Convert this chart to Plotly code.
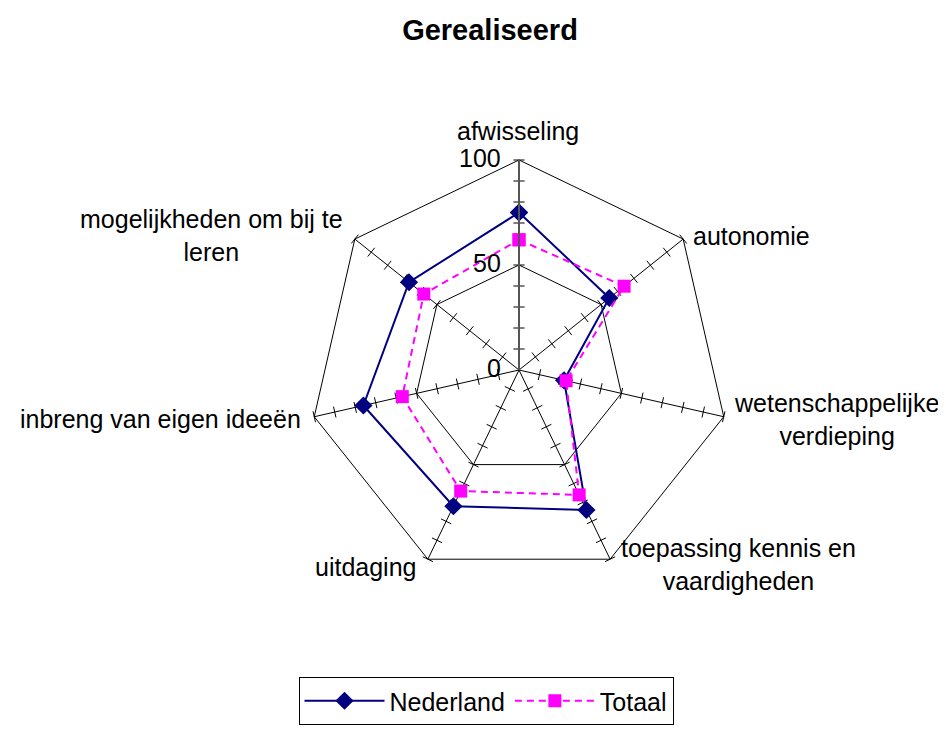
import plotly.graph_objects as go

categories = ["afwisseling", "autonomie", "wetenschappelijke verdieping",
              "toepassing kennis en vaardigheden", "uitdaging",
              "inbreng van eigen ideeën", "mogelijkheden om bij te leren"]
label_text = ["afwisseling", "autonomie", "wetenschappelijke<br>verdieping",
              "toepassing kennis en<br>vaardigheden", "uitdaging",
              "inbreng van eigen ideeën", "mogelijkheden om bij te<br>leren"]
nederland = [75, 55, 22, 74, 72, 76, 67]
totaal = [62, 64, 23, 66, 64, 57, 58]
radial_ticks = [0, 50, 100]
minor_ticks = [10, 20, 30, 40, 50, 60, 70, 80, 90, 100]

W, H = 946, 730
OFF = 8          # page body margin around the plot div
cx, cy, R = 519, 370, 210   # target centre / radius in screen pixels
FONT = "Liberation Sans, Arial, sans-serif"
FS = 25


def px(x):
    return (x - OFF) / W


def py(y):
    return 1 - (y - OFF) / H


fig = go.Figure()

# minor tick marks along every axis
n = len(categories)
tick_r, tick_t, tick_a = [], [], []
for i, c in enumerate(categories):
    for r in minor_ticks:
        tick_r.append(r)
        tick_t.append(c)
        tick_a.append(i * 360.0 / n)
fig.add_trace(go.Scatterpolar(
    r=tick_r, theta=tick_t, mode="markers",
    marker=dict(symbol="line-ew", size=8, angle=tick_a,
                line=dict(color="black", width=1)),
    showlegend=False, hoverinfo="skip"))

fig.add_trace(go.Scatterpolar(
    r=nederland + nederland[:1], theta=categories + categories[:1],
    mode="lines+markers", name="Nederland",
    line=dict(color="#000080", width=2),
    marker=dict(symbol="diamond", size=14, color="#000080")))
fig.add_trace(go.Scatterpolar(
    r=totaal + totaal[:1], theta=categories + categories[:1],
    mode="lines+markers", name="Totaal",
    line=dict(color="#FF00FF", width=2, dash="7px,5px"),
    marker=dict(symbol="square", size=13, color="#FF00FF")))

label_pos = [
    (518, 131, "center"),
    (691, 236, "left"),
    (836, 419, "center"),
    (738, 564, "center"),
    (418, 567, "right"),
    (303, 419, "right"),
    (211, 235, "center"),
]
annotations = []
for txt, (x, y, xa) in zip(label_text, label_pos):
    annotations.append(dict(text=txt, x=px(x), y=py(y), xref="paper", yref="paper",
                            xanchor=xa, yanchor="middle", align="center", showarrow=False,
                            font=dict(family=FONT, size=FS, color="black")))
# radial value labels, placed along the vertical axis from their values
for v in radial_ticks:
    annotations.append(dict(text=str(v), x=px(cx - 16), y=py(cy - v / 100 * R - 2),
                            xref="paper", yref="paper", xanchor="right", yanchor="middle",
                            showarrow=False, font=dict(family=FONT, size=FS, color="black")))

fig.update_layout(
    width=W, height=H,
    margin=dict(l=0, r=0, t=0, b=0),
    paper_bgcolor="white", plot_bgcolor="white",
    font=dict(family=FONT, size=FS, color="black"),
    title=dict(text="<b>Gerealiseerd</b>", x=px(490), xanchor="center",
               y=py(30), yanchor="middle",
               font=dict(family=FONT, size=29, color="black")),
    polar=dict(
        domain=dict(x=[px(cx - R), px(cx + R)],
                    y=[py(cy + R), py(cy - R)]),
        bgcolor="white",
        gridshape="linear",
        radialaxis=dict(range=[0, 100], tickvals=radial_ticks,
                        angle=90, showticklabels=False,
                        showline=True, linecolor="#555555", linewidth=2,
                        showgrid=True, gridcolor="black", gridwidth=1,
                        ticks=""),
        angularaxis=dict(direction="clockwise", rotation=90,
                         showline=True, linecolor="black", linewidth=1,
                         showgrid=True, gridcolor="black", gridwidth=1,
                         ticks="", showticklabels=False),
    ),
    legend=dict(orientation="h", x=px(486), xanchor="center", y=py(725), yanchor="bottom",
                bordercolor="black", borderwidth=1, bgcolor="white", itemwidth=80,
                font=dict(family=FONT, size=FS, color="black")),
    annotations=annotations,
)

fig.write_html("out.html")
